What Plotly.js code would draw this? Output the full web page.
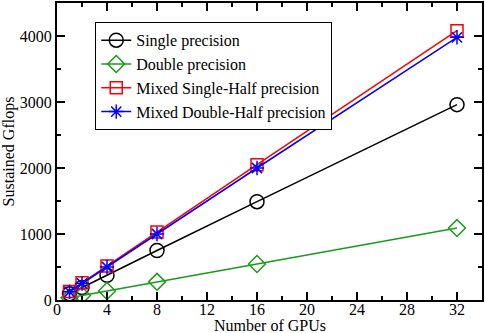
<!DOCTYPE html>
<html>
<head>
<script src="https://cdn.plot.ly/plotly-3.0.1.min.js"></script>
<style>body{margin:0;} #plot{width:485px;height:333px;}</style>
</head>
<body>
<div id="plot"></div>
<script>
var gpus = [1, 2, 4, 8, 16, 32];
var single = [95, 190, 375, 750, 1490, 2960];
var double = [34, 68, 137, 275, 545, 1090];
var mixedSingleHalf = [130, 260, 515, 1030, 2050, 4080];
var mixedDoubleHalf = [125, 250, 500, 1000, 2000, 3980];

var serif = "Liberation Serif";

function series(name, y, color, symbol, size) {
    return {
        x: gpus, y: y, name: name, type: "scatter", mode: "lines+markers",
        line: {color: color, width: 1.5},
        marker: {symbol: symbol, size: size, color: color, line: {color: color, width: 1.5}}
    };
}

var data = [
    series("Single precision", single, "black", "circle-open", 14),
    series("Double precision", double, "#1a9a1a", "diamond-open", 13),
    series("Mixed Single-Half precision", mixedSingleHalf, "red", "square-open", 12),
    series("Mixed Double-Half precision", mixedDoubleHalf, "blue", "asterisk-open", 12)
];

var axisStyle = {
    showgrid: false, zeroline: false, showline: true, linecolor: "black", linewidth: 2,
    mirror: "allticks", ticks: "inside", ticklen: 8, tickwidth: 1.5, tickcolor: "black",
    tickfont: {family: serif, size: 16, color: "black"}
};

var layout = {
    width: 485, height: 333,
    margin: {l: 57, r: 3, t: 3, b: 33},
    paper_bgcolor: "white", plot_bgcolor: "white",
    font: {family: serif, color: "black"},
    showlegend: true,
    legend: {
        x: 0.09, y: 0.935, xanchor: "left", yanchor: "top",
        bordercolor: "black", borderwidth: 1, bgcolor: "white", itemwidth: 30,
        font: {family: serif, size: 16}, tracegroupgap: 0
    },
    xaxis: Object.assign({}, axisStyle, {
        range: [0, 34], tickvals: [0, 4, 8, 12, 16, 20, 24, 28, 32], ticklabelstandoff: -6,
        minor: {tickvals: [2, 6, 10, 14, 18, 22, 26, 30, 34], ticks: "inside", ticklen: 4, tickwidth: 1.5, tickcolor: "black"}
    }),
    yaxis: Object.assign({}, axisStyle, {
        range: [0, 4500], tickvals: [0, 1000, 2000, 3000, 4000],
        minor: {tickvals: [500, 1500, 2500, 3500, 4500], ticks: "inside", ticklen: 4, tickwidth: 1.5, tickcolor: "black"},
        title: {text: "Sustained Gflops", font: {family: serif, size: 16}, standoff: 2}
    }),
    annotations: [{
        text: "Number of GPUs", xref: "paper", yref: "paper", x: 0.5, y: -0.122,
        xanchor: "center", yanchor: "bottom", showarrow: false,
        font: {family: serif, size: 16, color: "black"}
    }]
};

Plotly.newPlot("plot", data, layout, {displayModeBar: false});
</script>
</body>
</html>
